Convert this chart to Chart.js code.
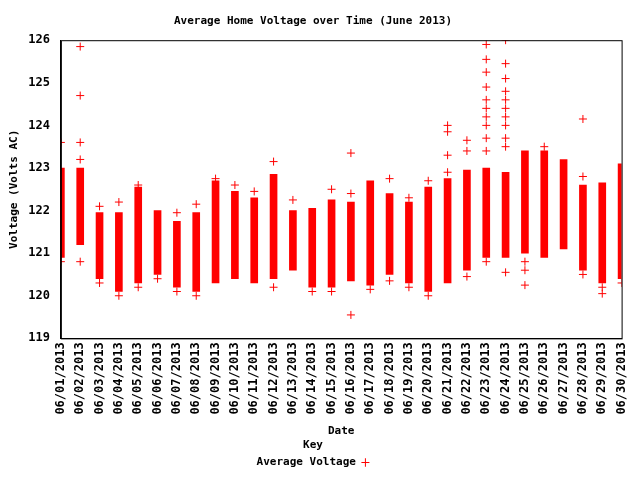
<!DOCTYPE html>
<html><head><meta charset="utf-8">
<script src="https://cdn.jsdelivr.net/npm/chart.js@4"></script>
<style>html,body{margin:0;background:#fff}#w{width:640px;height:480px}</style>
</head><body><div id="w"><canvas id="c"></canvas></div>
<script>
const days = [1,2,3,4,5,6,7,8,9,10,11,12,13,14,15,16,17,18,19,20,21,22,23,24,25,26,27,28,29,30];
const lows  = [120.9,121.2,120.4,120.1,120.3,120.5,120.2,120.1,120.3,120.4,120.3,120.4,120.6,120.2,120.2,120.35,120.25,120.5,120.3,120.1,120.3,120.6,120.9,120.9,121.0,120.9,121.1,120.6,120.3,120.4];
const highs = [123.0,123.0,121.95,121.95,122.55,122.0,121.75,121.95,122.7,122.45,122.3,122.85,122.0,122.05,122.25,122.2,122.7,122.4,122.2,122.55,122.75,122.95,123.0,122.9,123.4,123.4,123.2,122.6,122.65,123.1];
const outDays = [1,1,2,2,2,2,2,3,3,4,4,5,5,6,7,7,8,8,9,10,11,12,12,13,14,15,15,16,16,16,17,18,18,19,19,20,20,21,21,21,21,22,22,22,23,23,23,23,23,23,23,23,23,23,23,24,24,24,24,24,24,24,24,24,24,24,25,25,25,26,28,28,28,29,29,30];
const outVals = [123.6,120.8,125.85,124.7,123.6,123.2,120.8,122.1,120.3,122.2,120.0,122.6,120.2,120.4,121.95,120.1,122.15,120.0,122.75,122.6,122.45,123.15,120.2,122.25,120.1,122.5,120.1,123.35,122.4,119.55,120.15,122.75,120.35,122.3,120.2,122.7,120.0,124.0,123.85,123.3,122.9,123.65,123.4,120.45,125.9,125.55,125.25,124.9,124.6,124.4,124.2,124.0,123.7,123.4,120.8,126.0,125.45,125.1,124.8,124.6,124.4,124.2,124.0,123.7,123.5,120.55,120.8,120.6,120.25,123.5,124.15,122.8,120.5,120.05,120.2,120.3];
const yTicks = [119,120,121,122,123,124,125,126];
const font = {family:'DejaVu Sans Mono', size:11, weight:'bold'};
const xfont = {family:'DejaVu Sans Mono', size:12, weight:'bold'};
new Chart(document.getElementById('c'), {
  data: {
    datasets: [
      {type:'bar', label:'bars', data: days.map((d,i)=>({x:d, y:[lows[i],highs[i]]})), backgroundColor:'#ff0000', barThickness:7, grouped:false},
      {type:'scatter', label:'Average Voltage', data: outDays.map((d,i)=>({x:d,y:outVals[i]})), pointStyle:'cross', pointRadius:4, borderColor:'#ff0000', backgroundColor:'#ff0000', borderWidth:1}
    ]
  },
  options: {
    animation:false, responsive:true, maintainAspectRatio:false,
    layout:{padding:{right:18,top:3,left:4,bottom:2}},
    plugins:{
      title:{display:true, text:'Average Home Voltage over Time (June 2013)', font:font, color:'#000', padding:{top:12,bottom:12}},
      legend:{position:'bottom', rtl:true, title:{display:true, text:'Key', font:font, color:'#000', padding:0},
        labels:{usePointStyle:true, pointStyleWidth:8, font:font, color:'#000', boxWidth:6, boxHeight:6, padding:4, filter:(it)=>it.text!=='bars'}},
      tooltip:{enabled:false}
    },
    scales:{
      x:{type:'linear', min:1, max:30, offset:false,
        title:{display:true, text:'Date', font:font, color:'#000', padding:{top:6,bottom:2}},
        grid:{display:false, drawTicks:false}, border:{color:'#000'},
        ticks:{stepSize:1, autoSkip:false, maxRotation:90, minRotation:90, font:xfont, color:'#000', padding:4,
          callback:v=>'06/'+String(v).padStart(2,'0')+'/2013'}},
      y:{min:119, max:126,
        title:{display:true, text:'Voltage (Volts AC)', font:font, color:'#000'},
        grid:{display:false}, border:{color:'#000'},
        afterBuildTicks:a=>{a.ticks=yTicks.map(v=>({value:v}));},
        ticks:{font:xfont, color:'#000'}}
    }
  },
  plugins:[{id:'box',afterDraw(ch){const a=ch.chartArea,c=ch.ctx;c.save();c.strokeStyle='#000';c.lineWidth=1;c.strokeRect(a.left+0.5,a.top+0.5,a.width,a.height);c.restore();}}]
});
</script></body></html>
